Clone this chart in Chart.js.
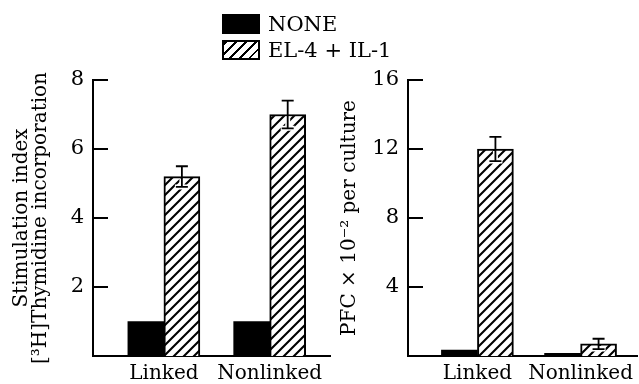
<!DOCTYPE html>
<html>
<head>
<meta charset="utf-8">
<script src="https://cdn.jsdelivr.net/npm/chart.js@4"></script>
<style>
  body { margin: 0; background: #fff; }
  #wrap { position: relative; width: 639px; height: 384px; overflow: hidden; font-family: 'DejaVu Serif', serif; }
  #leftChart { position: absolute; left: 0; top: 0; }
  #rightChart { position: absolute; left: 335px; top: 0; }
  .legend { position: absolute; left: 222px; font-size: 21px; color: #000; line-height: 22px; }
  .legend .row { display: flex; align-items: center; height: 22px; margin-bottom: 4px; }
  .legend .box { width: 38px; height: 20px; box-sizing: border-box; margin-right: 8px; }
  .legend .solid { background: #000; }
  .legend .hatch { border: 2px solid #000;
    background: repeating-linear-gradient(-45deg, #fff 0 5px, #000 5px 7px); }
</style>
</head>
<body>
<div id="wrap">
  <canvas id="leftChart" width="335" height="384"></canvas>
  <canvas id="rightChart" width="304" height="384"></canvas>
  <div class="legend" style="top: 13px;">
    <div class="row"><span class="box solid"></span>NONE</div>
    <div class="row"><span class="box hatch"></span>EL-4 + IL-1</div>
  </div>
</div>
<script>
// categories and series
const categories = ['Linked', 'Nonlinked'];
const seriesNames = ['NONE', 'EL-4 + IL-1'];

// left panel: stimulation index
const stimNone = [1.0, 1.0];
const stimIL1 = [5.2, 7.0];
const stimIL1Err = [0.3, 0.4];
const stimTicks = [2, 4, 6, 8];

// right panel: PFC x 10^-2 per culture
const pfcNone = [0.35, 0.15];
const pfcIL1 = [12.0, 0.7];
const pfcIL1Err = [0.7, 0.3];
const pfcTicks = [4, 8, 12, 16];

Chart.defaults.font.family = "'DejaVu Serif', serif";
Chart.defaults.color = '#000';

function makeHatch(ctx) {
    const s = 10;
    const c = document.createElement('canvas');
    c.width = s; c.height = s;
    const g = c.getContext('2d');
    g.fillStyle = '#fff';
    g.fillRect(0, 0, s, s);
    g.strokeStyle = '#000';
    g.lineWidth = 2.1;
    g.beginPath();
    g.moveTo(-1, s + 1); g.lineTo(s + 1, -1);
    g.moveTo(-s / 2 - 1, s / 2 + 1); g.lineTo(s / 2 + 1, -s / 2 - 1);
    g.moveTo(s / 2 - 1, s * 1.5 + 1); g.lineTo(s * 1.5 + 1, s / 2 - 1);
    g.stroke();
    return ctx.createPattern(c, 'repeat');
}

// tick marks pointing into the plot, as in the printed figure
const inwardTicks = {
    id: 'inwardTicks',
    afterDraw(chart) {
        const ctx = chart.ctx;
        const yScale = chart.scales.y;
        const x0 = chart.chartArea.left;
        ctx.save();
        ctx.strokeStyle = '#000';
        ctx.lineWidth = 2;
        ctx.beginPath();
        yScale.ticks.forEach(t => {
            const py = Math.round(yScale.getPixelForValue(t.value));
            ctx.moveTo(x0, py); ctx.lineTo(x0 + 15, py);
        });
        ctx.stroke();
        ctx.restore();
    }
};

// draws the I-shaped error bars on top of the hatched bars
const errorBars = {
    id: 'errorBars',
    afterDatasetsDraw(chart) {
        const ctx = chart.ctx;
        const yScale = chart.scales.y;
        chart.data.datasets.forEach((ds, di) => {
            if (!ds.errors) return;
            const meta = chart.getDatasetMeta(di);
            meta.data.forEach((bar, i) => {
                const v = ds.data[i].y;
                const e = ds.errors[i];
                const top = yScale.getPixelForValue(v + e);
                const bot = yScale.getPixelForValue(v - e);
                const x = bar.x;
                const w = 6;
                ctx.save();
                // white halo where the hatching clears round the error bar
                ctx.strokeStyle = '#fff';
                ctx.lineWidth = 5;
                ctx.beginPath();
                ctx.moveTo(x, Math.max(top, bar.y + 2)); ctx.lineTo(x, bot + 2);
                ctx.moveTo(x - w - 1, bot); ctx.lineTo(x + w + 1, bot);
                ctx.stroke();
                ctx.strokeStyle = '#000';
                ctx.lineWidth = 1.8;
                ctx.beginPath();
                ctx.moveTo(x, top); ctx.lineTo(x, bot);
                ctx.moveTo(x - w, top); ctx.lineTo(x + w, top);
                ctx.moveTo(x - w, bot); ctx.lineTo(x + w, bot);
                ctx.stroke();
                ctx.restore();
            });
        });
    }
};

function buildChart(canvasId, cfg) {
    const canvas = document.getElementById(canvasId);
    const ctx = canvas.getContext('2d');
    const hatch = makeHatch(ctx);
    return new Chart(canvas, {
        type: 'bar',
        data: {
            datasets: [{
                label: seriesNames[0],
                data: cfg.none.map((v, i) => ({ x: i + 1, y: v })),
                backgroundColor: '#000',
                borderWidth: 0
            }, {
                label: seriesNames[1],
                data: cfg.il1.map((v, i) => ({ x: i + 1, y: v })),
                errors: cfg.err,
                backgroundColor: hatch,
                borderColor: '#000',
                borderWidth: 2
            }]
        },
        options: {
            responsive: false,
            animation: false,
            barThickness: 36,
            layout: { padding: { top: 80, right: cfg.padRight, bottom: 0, left: 0 } },
            plugins: {
                legend: { display: false },
                tooltip: { enabled: false }
            },
            scales: {
                x: {
                    type: 'linear',
                    min: cfg.xMin,
                    max: cfg.xMax,
                    offset: false,
                    afterBuildTicks: (s) => { s.ticks = categories.map((c, i) => ({ value: i + 1 })); },
                    afterFit: (s) => { s.height = 28; },
                    ticks: {
                        autoSkip: false,
                        maxRotation: 0,
                        padding: 6,
                        font: { size: 20 },
                        callback: (v) => categories[v - 1]
                    },
                    grid: { display: false, drawTicks: false },
                    border: { display: true, color: '#000', width: 2 }
                },
                y: {
                    min: 0,
                    max: cfg.yMax,
                    afterBuildTicks: (s) => { s.ticks = cfg.ticks.map(v => ({ value: v })); },
                    afterFit: (s) => { s.width = cfg.axisWidth; },
                    ticks: {
                        padding: 9,
                        font: { size: 21 }
                    },
                    grid: { drawOnChartArea: false, drawTicks: false },
                    border: { display: true, color: '#000', width: 2 },
                    title: {
                        display: true,
                        text: cfg.title,
                        font: { size: 20, lineHeight: 0.95 },
                        padding: { top: cfg.titlePad, bottom: 0 }
                    }
                }
            }
        },
        plugins: [errorBars, inwardTicks]
    });
}

buildChart('leftChart', {
    none: stimNone, il1: stimIL1, err: stimIL1Err, ticks: stimTicks,
    yMax: 8, xMin: 0.33, xMax: 2.57, axisWidth: 93, padRight: 5, titlePad: 12.5,
    title: ['Stimulation index', '[\u00B3H]Thymidine incorporation']
});

buildChart('rightChart', {
    none: pfcNone, il1: pfcIL1, err: pfcIL1Err, ticks: pfcTicks,
    yMax: 16, xMin: 0.327, xMax: 2.548, axisWidth: 73, padRight: 0, titlePad: 5.5,
    title: 'PFC \u00D7 10\u207B\u00B2 per culture'
});
</script>
</body>
</html>
